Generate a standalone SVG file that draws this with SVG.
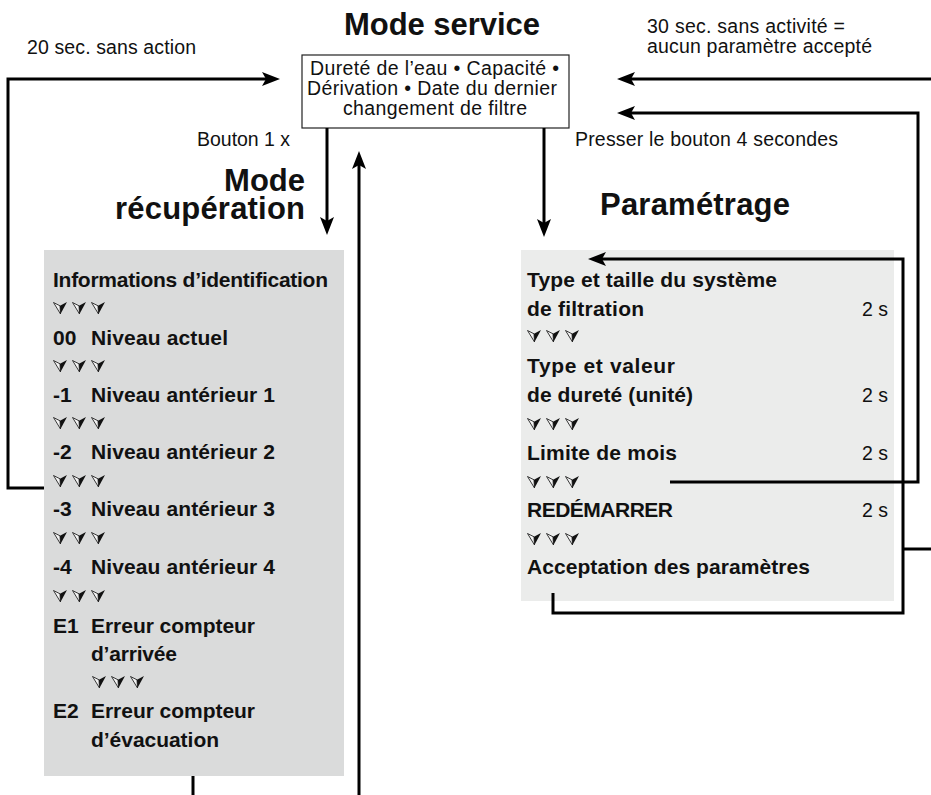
<svg xmlns="http://www.w3.org/2000/svg" width="931" height="795" viewBox="0 0 931 795">
<style>
text{font-family:"Liberation Sans",Arial,sans-serif;fill:#111}
.r{font-size:19.5px}
.b{font-size:21px;font-weight:bold}
.h{font-size:31px;font-weight:bold}
.c{fill:none;stroke:#000;stroke-width:3}
</style>
<defs>
<marker id="ah" markerWidth="18" markerHeight="14" refX="13" refY="7" orient="auto" markerUnits="userSpaceOnUse">
<path d="M0,0 L18,7 L0,14 L4,7 Z" fill="#000"/>
</marker>
<g id="g1">
<path d="M0.5,0.5 L7,3.8 L7.5,12 Z" fill="#f4f4f4" stroke="#222" stroke-width="0.9" stroke-linejoin="round"/>
<path d="M7,3.8 L14,0 L7.5,12 Z" fill="#111"/>
</g>
<g id="tri">
<use href="#g1" x="0" y="0"/>
<use href="#g1" x="19" y="0"/>
<use href="#g1" x="38" y="0"/>
</g>
</defs>
<rect width="931" height="795" fill="#fff"/>

<g id="service">
<text class="h" x="442" y="35" text-anchor="middle" textLength="196">Mode service</text>
<rect x="302" y="55" width="267" height="73" fill="#fff" stroke="#222" stroke-width="1.2"/>
<text class="r" x="434.5" y="75" text-anchor="middle" textLength="249">Dureté de l’eau • Capacité •</text>
<text class="r" x="432" y="95" text-anchor="middle" textLength="250">Dérivation • Date du dernier</text>
<text class="r" x="435" y="115" text-anchor="middle" textLength="184">changement de filtre</text>
</g>

<g id="labels">
<text class="r" x="27" y="54" textLength="169">20 sec. sans action</text>
<text class="r" x="647" y="33" textLength="198">30 sec. sans activité =</text>
<text class="r" x="647" y="53" textLength="225">aucun paramètre accepté</text>
<text class="r" x="197" y="146" textLength="93">Bouton 1 x</text>
<text class="r" x="575" y="146" textLength="263">Presser le bouton 4 secondes</text>
</g>

<g id="recuperation">
<text class="h" x="305" y="191" text-anchor="end">Mode</text>
<text class="h" x="305" y="219" text-anchor="end" textLength="190">récupération</text>
<rect x="44" y="250" width="300" height="526" fill="#dadbdb"/>
<text class="b" x="53" y="287" textLength="275">Informations d’identification</text>
<use href="#tri" x="53" y="302"/>
<text class="b" x="53" y="345">00</text><text class="b" x="91" y="345" textLength="137">Niveau actuel</text>
<use href="#tri" x="53" y="360"/>
<text class="b" x="53" y="402">-1</text><text class="b" x="91" y="402" textLength="184">Niveau antérieur 1</text>
<use href="#tri" x="53" y="417"/>
<text class="b" x="53" y="459">-2</text><text class="b" x="91" y="459" textLength="184">Niveau antérieur 2</text>
<use href="#tri" x="53" y="475"/>
<text class="b" x="53" y="516">-3</text><text class="b" x="91" y="516" textLength="184">Niveau antérieur 3</text>
<use href="#tri" x="53" y="532"/>
<text class="b" x="53" y="574">-4</text><text class="b" x="91" y="574" textLength="184">Niveau antérieur 4</text>
<use href="#tri" x="53" y="590"/>
<text class="b" x="53" y="633">E1</text><text class="b" x="91" y="633" textLength="164">Erreur compteur</text>
<text class="b" x="91" y="661" textLength="86">d’arrivée</text>
<use href="#tri" x="92" y="676"/>
<text class="b" x="53" y="718">E2</text><text class="b" x="91" y="718" textLength="164">Erreur compteur</text>
<text class="b" x="91" y="747" textLength="128">d’évacuation</text>
</g>

<g id="parametrage">
<text class="h" x="600" y="215" textLength="190">Paramétrage</text>
<rect x="521" y="250" width="373" height="351" fill="#ebeceb"/>
<text class="b" x="527" y="287" textLength="250">Type et taille du système</text>
<text class="b" x="527" y="316" textLength="117">de filtration</text>
<text class="r" x="888" y="316" text-anchor="end">2 s</text>
<use href="#tri" x="527" y="330"/>
<text class="b" x="527" y="373" textLength="148">Type et valeur</text>
<text class="b" x="527" y="402" textLength="166">de dureté (unité)</text>
<text class="r" x="888" y="402" text-anchor="end">2 s</text>
<use href="#tri" x="527" y="418"/>
<text class="b" x="527" y="460" textLength="150">Limite de mois</text>
<text class="r" x="888" y="460" text-anchor="end">2 s</text>
<use href="#tri" x="527" y="476"/>
<text class="b" x="527" y="517" textLength="146">REDÉMARRER</text>
<text class="r" x="888" y="517" text-anchor="end">2 s</text>
<use href="#tri" x="527" y="533"/>
<text class="b" x="527" y="574" textLength="283">Acceptation des paramètres</text>
</g>

<g id="connectors">
<path class="c" d="M44,488 H8 V79 H275" marker-end="url(#ah)"/>
<path class="c" d="M935,79 H622" marker-end="url(#ah)"/>
<path class="c" d="M670,482 H918 V113 H622" marker-end="url(#ah)"/>
<path class="c" d="M553,593 V613 H903 V259 H593" marker-end="url(#ah)"/>
<path class="c" d="M903,549 H935"/>
<path class="c" d="M327,128 V230" marker-end="url(#ah)"/>
<path class="c" d="M544,128 V232" marker-end="url(#ah)"/>
<path class="c" d="M359,800 V156" marker-end="url(#ah)"/>
<path class="c" d="M193,776 V800"/>
</g>
</svg>
